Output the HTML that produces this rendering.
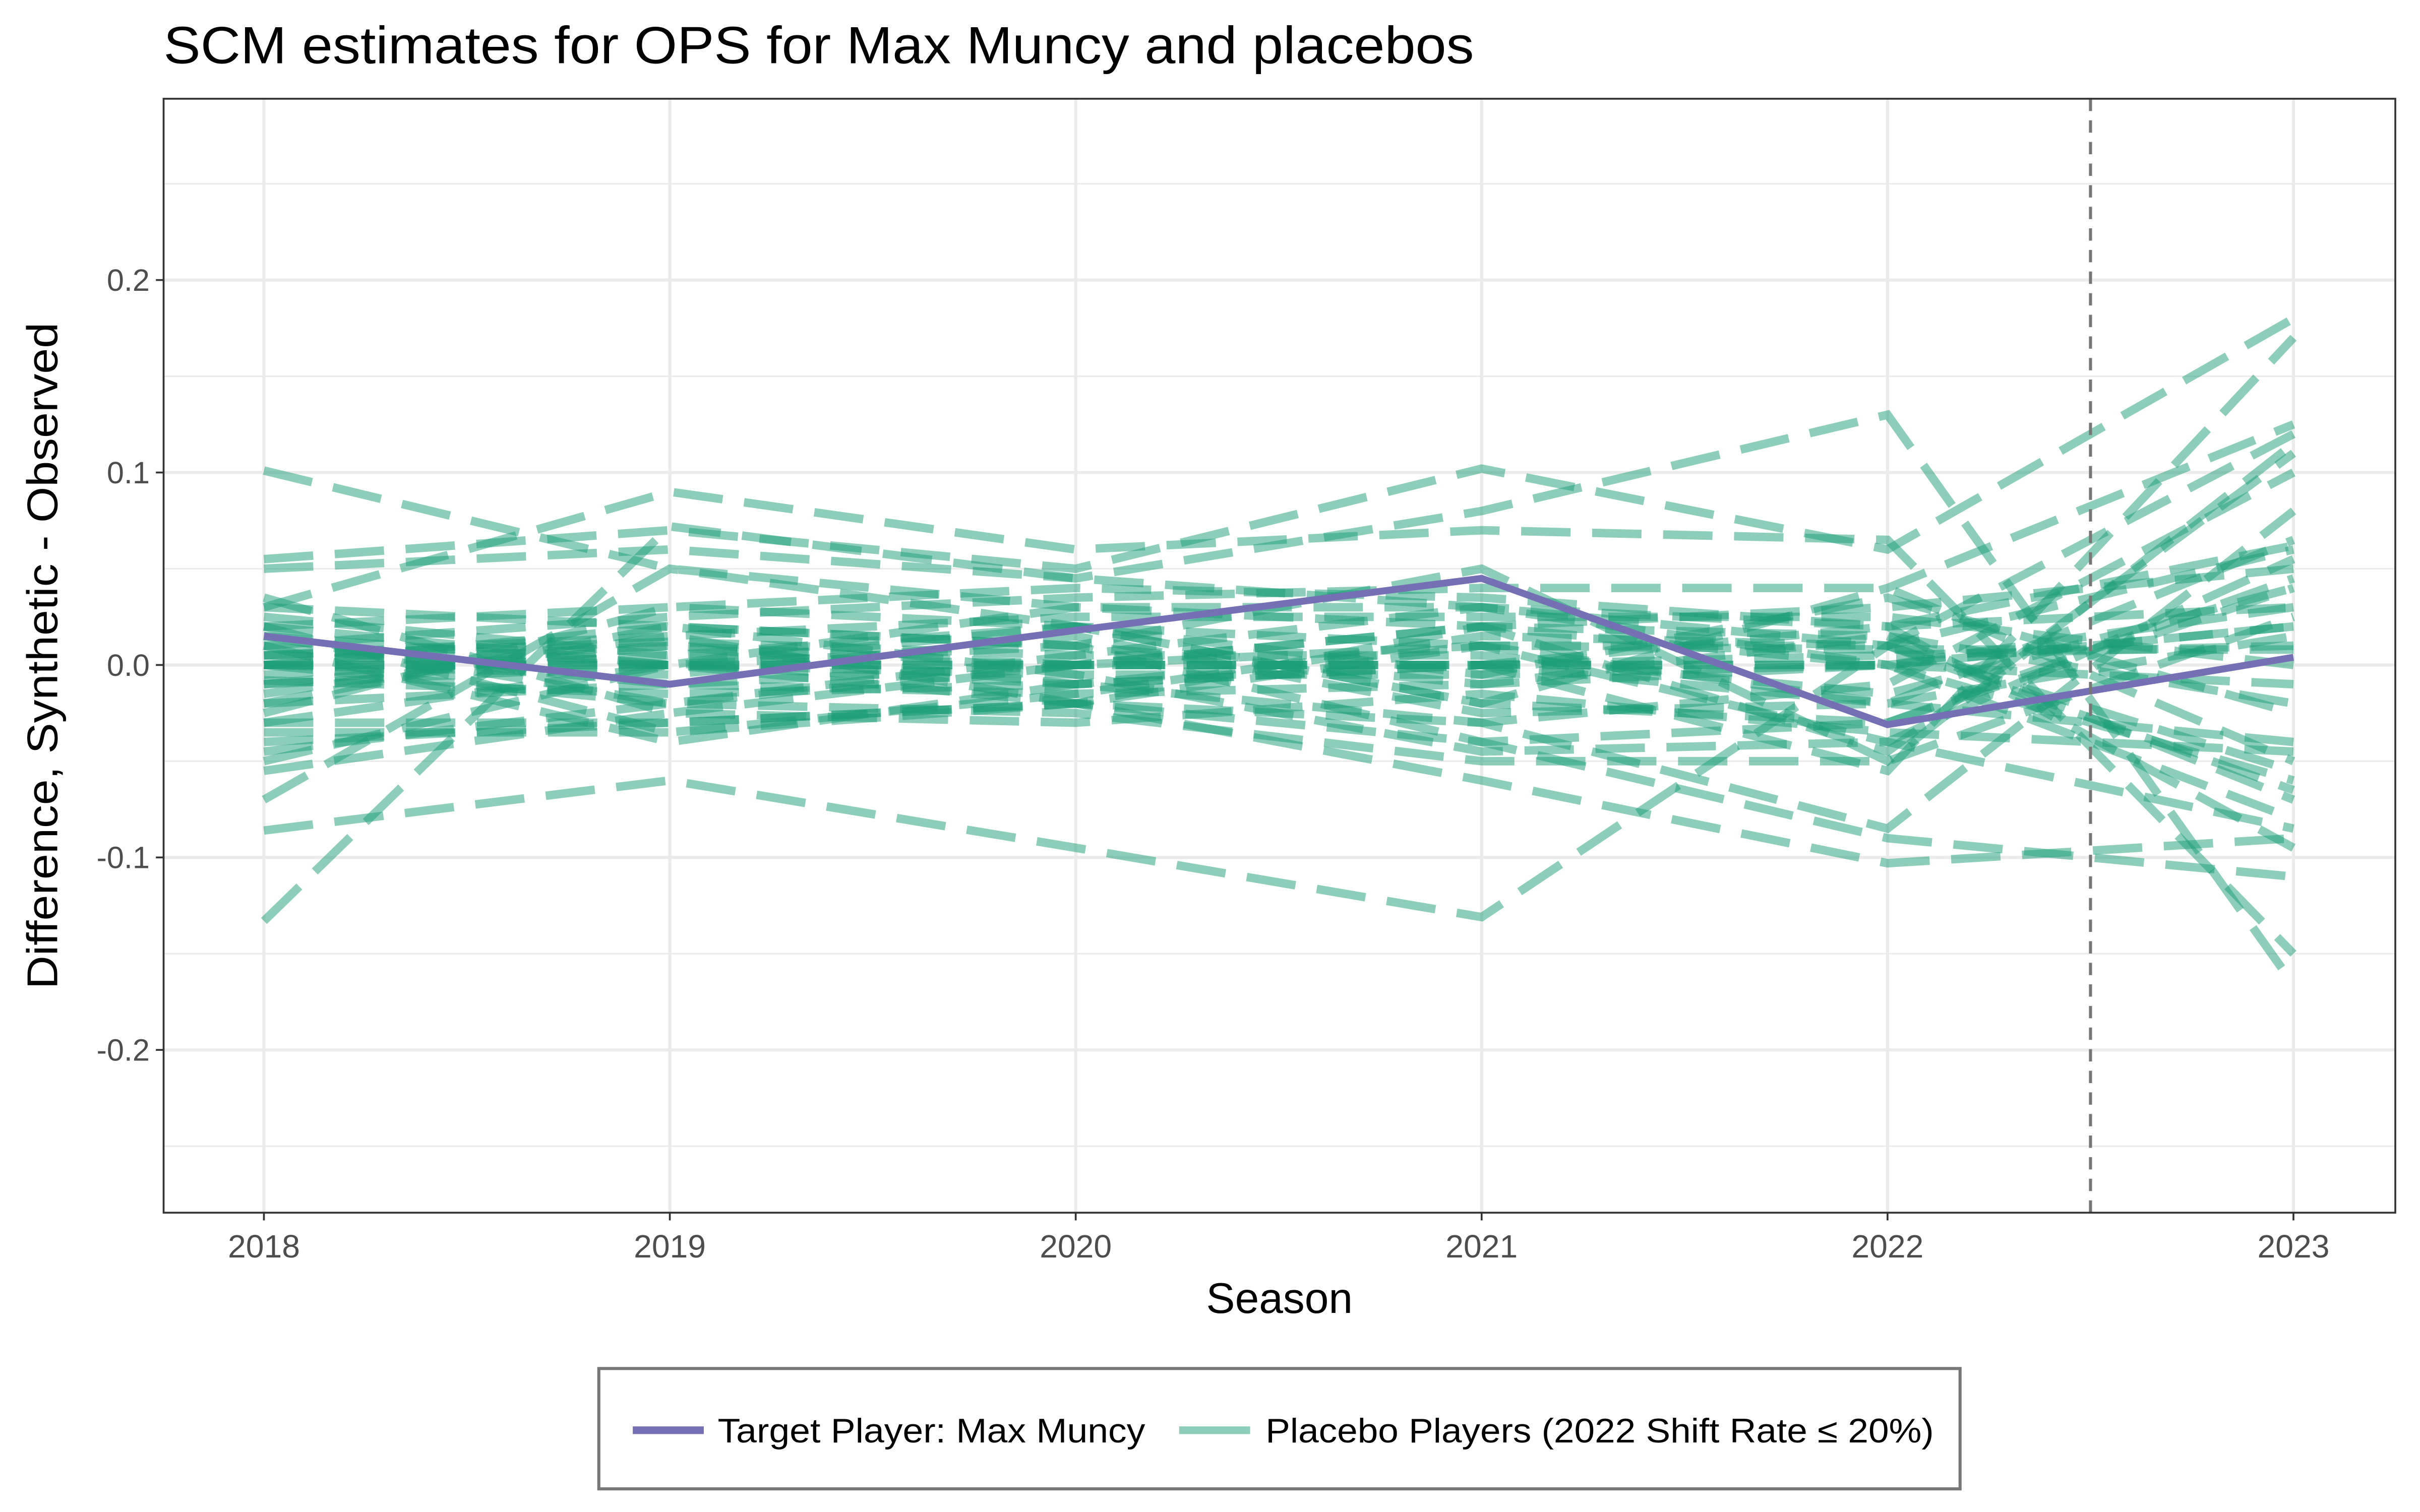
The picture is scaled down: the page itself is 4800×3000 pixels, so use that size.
<!DOCTYPE html>
<html><head><meta charset="utf-8"><style>
html,body{margin:0;padding:0;background:#fff}
svg{display:block}
text{font-family:"Liberation Sans",Arial,sans-serif}
</style></head><body>
<svg id="chart" width="4800" height="3000" viewBox="0 0 1568 980" preserveAspectRatio="none" xmlns="http://www.w3.org/2000/svg">
<rect width="1568" height="980" fill="#fff"/>
<text x="106" y="41" font-size="34" fill="#000" textLength="849" lengthAdjust="spacingAndGlyphs">SCM estimates for OPS for Max Muncy and placebos</text>
<g id="grid"></g>
<g id="series"></g>
<rect x="106" y="64" width="1446" height="722" fill="none" stroke="#333" stroke-width="1.2"/>
<g id="axes"></g>
<text x="829" y="851" font-size="28" text-anchor="middle">Season</text>
<text transform="translate(37,425) rotate(-90)" font-size="28" text-anchor="middle" textLength="432" lengthAdjust="spacingAndGlyphs">Difference, Synthetic - Observed</text>
<g>
<rect x="388" y="887" width="882" height="78" fill="#fff" stroke="#777" stroke-width="2"/>
<line x1="410" y1="927" x2="456" y2="927" stroke="#7570b3" stroke-width="5"/>
<text x="465" y="935" font-size="22" textLength="277" lengthAdjust="spacingAndGlyphs">Target Player: Max Muncy</text>
<line x1="764" y1="927" x2="810" y2="927" stroke="#1b9e77" stroke-opacity="0.5" stroke-width="5"/>
<text x="820" y="935" font-size="22" textLength="433" lengthAdjust="spacingAndGlyphs">Placebo Players (2022 Shift Rate ≤ 20%)</text>
</g>
</svg>
<script>
const years=[2018,2019,2020,2021,2022,2023];
const yTicks=[-0.2,-0.1,0.0,0.1,0.2];
const yTickLabels=["-0.2","-0.1","0.0","0.1","0.2"];
const yMinor=[-0.25,-0.15,-0.05,0.05,0.15,0.25];
const target=[0.015,-0.01,0.018,0.045,-0.031,0.004];
const placebos=[
[0.101,0.05,0.03,0.02,0.0,0.02],
[-0.133,0.072,0.045,0.03,0.01,0.12],
[-0.086,-0.06,-0.095,-0.131,0.01,0.06],
[0.055,0.07,0.05,0.102,0.06,0.18],
[0.05,0.06,0.045,0.08,0.13,-0.166],
[0.03,0.09,0.06,0.07,0.065,-0.15],
[-0.04,-0.03,-0.02,-0.06,-0.103,-0.09],
[-0.035,-0.035,-0.02,-0.04,-0.09,-0.11],
[0.02,0.0,-0.01,0.0,-0.055,0.17],
[-0.07,0.05,0.02,-0.02,0.04,0.125],
[0.0,0.02,0.01,0.05,-0.05,0.115],
[0.01,-0.04,-0.01,-0.03,-0.085,0.08],
[-0.05,0.0,0.03,0.03,0.0,-0.06],
[0.0,-0.02,0.0,0.0,0.02,0.062],
[-0.01,0.01,0.0,0.02,0.03,0.05],
[0.02,0.03,0.02,0.01,-0.02,-0.04],
[-0.02,-0.01,-0.015,-0.01,0.0,-0.08],
[0.0,0.0,0.0,0.0,0.0,0.03],
[0.005,0.0,-0.005,-0.005,0.0,0.02],
[-0.005,0.005,0.0,0.0,0.005,0.01],
[0.03,0.02,0.01,-0.04,-0.03,0.04],
[-0.03,-0.03,-0.02,0.02,0.015,-0.02],
[0.01,0.025,0.035,0.04,0.04,-0.05],
[-0.045,-0.02,-0.025,-0.05,-0.05,0.025],
[0.035,-0.025,0.0,0.01,-0.04,-0.085],
[-0.015,0.015,0.025,0.025,0.025,0.0],
[0.0,-0.005,0.015,-0.025,-0.02,0.015],
[0.02,-0.035,-0.015,0.015,0.01,-0.065],
[-0.025,0.03,0.04,0.035,0.02,0.03],
[0.015,0.0,-0.02,-0.03,-0.01,0.1],
[-0.055,-0.025,-0.03,-0.015,-0.035,-0.045],
[0.005,0.012,0.005,0.005,-0.015,0.04],
[-0.008,-0.015,-0.01,0.01,0.008,0.008],
[0.025,0.005,0.02,-0.005,0.035,-0.025],
[-0.02,0.02,-0.005,-0.045,-0.04,0.055],
[0.0,0.0,0.0,0.0,0.0,-0.01],
[0.01,-0.01,0.0,0.02,-0.045,0.11],
[-0.03,0.0,0.01,-0.01,0.015,-0.07],
[0.0,0.01,-0.01,0.0,-0.02,0.065],
[0.015,-0.02,0.005,0.03,0.02,-0.095],
[-0.01,0.0,0.02,-0.02,-0.03,0.045],
[0.005,0.015,-0.02,0.01,0.01,-0.055]
];
const xS=v=>171+(v-2018)*263;
const yS=v=>431-v*1247.5;
const NS="http://www.w3.org/2000/svg";
function mk(tag,attrs,parent){const e=document.createElementNS(NS,tag);for(const k in attrs)e.setAttribute(k,attrs[k]);parent.appendChild(e);return e;}
const grid=document.getElementById('grid'),axes=document.getElementById('axes'),ser=document.getElementById('series');
yMinor.forEach(v=>{const l=mk('line',{x1:106,x2:1552,y1:yS(v),y2:yS(v),stroke:'#ebebeb','stroke-width':1},grid);

});
yTicks.forEach((v,i)=>{const l=mk('line',{x1:106,x2:1552,y1:yS(v),y2:yS(v),stroke:'#ebebeb','stroke-width':2},grid);


const t=mk('line',{x1:101,x2:106,y1:yS(v),y2:yS(v),stroke:'#333','stroke-width':1.2},axes);


const tx=mk('text',{x:97,y:yS(v)+7,'font-size':20,'text-anchor':'end',fill:'#4d4d4d'},axes);tx.textContent=yTickLabels[i];

});
years.forEach(v=>{const l=mk('line',{x1:xS(v),x2:xS(v),y1:64,y2:786,stroke:'#ebebeb','stroke-width':2},grid);


const t=mk('line',{x1:xS(v),x2:xS(v),y1:786,y2:791,stroke:'#333','stroke-width':1.2},axes);


const tx=mk('text',{x:xS(v),y:815,'font-size':21,'text-anchor':'middle',fill:'#4d4d4d'},axes);tx.textContent=v;

});
const pts=a=>a.map((v,i)=>xS(years[i])+','+yS(v)).join(' ');
placebos.forEach(a=>{const p=mk('polyline',{points:pts(a),fill:'none',stroke:'#1b9e77','stroke-opacity':0.5,'stroke-width':5.5,'stroke-dasharray':'32 14'},ser);

});
const tp=mk('polyline',{points:pts(target),fill:'none',stroke:'#7570b3','stroke-width':4.5},ser);


const vl=mk('line',{x1:xS(2022.5),x2:xS(2022.5),y1:64,y2:786,stroke:'#777','stroke-width':2,'stroke-dasharray':'8 6'},ser);


</script>
</body></html>
